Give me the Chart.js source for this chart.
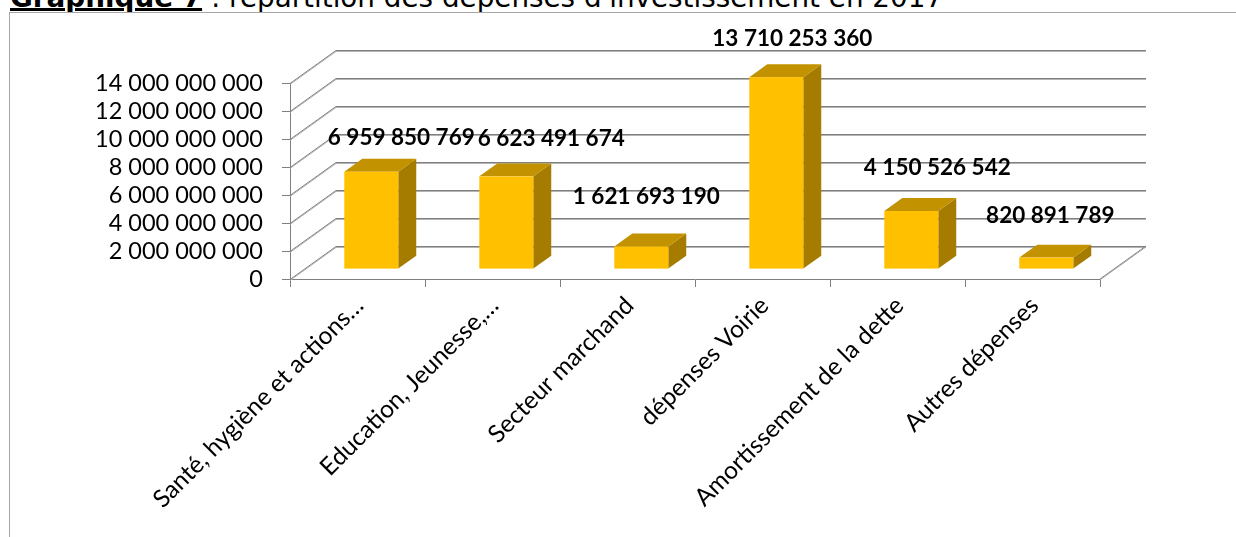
<!DOCTYPE html>
<html lang="fr">
<head>
<meta charset="utf-8">
<script src="https://cdn.jsdelivr.net/npm/chart.js@4.4.1/dist/chart.umd.min.js"></script>
<style>
  html, body { margin: 0; padding: 0; background: #fff; overflow: hidden; }
  #page { position: relative; width: 1236px; height: 537px; overflow: hidden; }
  #titre {
    position: absolute; left: 10px; top: -16px;
    font: 27.8px "DejaVu Sans", sans-serif; line-height: 27.8px;
    white-space: nowrap; color: #000;
  }
  #titre b { text-decoration: underline; text-decoration-thickness: 3px; text-underline-offset: 1px; }
  #cadre { position: absolute; left: 9px; top: 12px; width: 1300px; height: 600px; border: 1px solid #a6a6a6; }
  #graphe { position: absolute; left: 0; top: 0; }
</style>
</head>
<body>
<div id="page">
  <div id="titre"><b>Graphique 7</b> : répartition des dépenses d'investissement en 2017</div>
  <div id="cadre"></div>
  <canvas id="graphe" width="1236" height="537"></canvas>
</div>
<script>
var postes = [
  "Santé, hygiène et actions…",
  "Education, Jeunesse,…",
  "Secteur marchand",
  "dépenses Voirie",
  "Amortissement de la dette",
  "Autres dépenses",
];
var montants = [6959850769, 6623491674, 1621693190, 13710253360, 4150526542, 820891789];
var graduations = [0, 2e9, 4e9, 6e9, 8e9, 10e9, 12e9, 14e9];

// profondeur de la vue 3D (décalage du mur du fond) et position des barres dans cette profondeur
var profondeur = { dx: 46, dy: -33 };
var avant = 0.3;
var arriere = 0.69;

// petits déplacements des étiquettes de valeur, en pixels, autour de leur place par défaut
var ajustEtiquettes = [[10, 6], [25, 2], [-15, -10], [-4, 2], [6, -3], [-16, -2]];

var couleurFace = "#FFC000";
var couleurDessus = "#C39200";
var couleurCote = "#A57C00";
var couleurGrille = "#7f7f7f";

function espaces(n) {
  return String(Math.round(n)).replace(/\B(?=(\d{3})+(?!\d))/g, " ");
}

function trait(ctx, x1, y1, x2, y2) {
  ctx.beginPath();
  ctx.moveTo(x1, y1);
  ctx.lineTo(x2, y2);
  ctx.stroke();
}

function poly(ctx, pts, couleur) {
  ctx.beginPath();
  ctx.moveTo(pts[0][0], pts[0][1]);
  for (var k = 1; k < pts.length; k++) ctx.lineTo(pts[k][0], pts[k][1]);
  ctx.closePath();
  ctx.fillStyle = couleur;
  ctx.fill();
}

var vue3d = {
  id: "vue3d",
  beforeDatasetsDraw: function (chart) {
    var ctx = chart.ctx;
    var a = chart.chartArea;
    var dx = profondeur.dx, dy = profondeur.dy;
    ctx.save();
    ctx.lineWidth = 1;
    // murs : lignes du quadrillage sur la paroi gauche et le fond
    [["#b4b4b4", 1], [couleurGrille, 0]].forEach(function (passe) {
      ctx.strokeStyle = passe[0];
      graduations.forEach(function (v) {
        var py = Math.round(chart.scales.y.getPixelForValue(v)) + 0.5 + passe[1];
        trait(ctx, a.left, py, a.left + dx, py + dy);
        trait(ctx, a.left + dx, py + dy, a.right + dx, py + dy);
      });
      // bord droit du plancher
      trait(ctx, a.right, a.bottom + passe[1], a.right + dx, a.bottom + dy + passe[1]);
    });
    ctx.restore();
  },
  afterDatasetsDraw: function (chart) {
    var ctx = chart.ctx;
    var meta = chart.getDatasetMeta(0);
    var ox = profondeur.dx * avant, oy = profondeur.dy * avant;
    var bx = profondeur.dx * (arriere - avant), by = profondeur.dy * (arriere - avant);
    ctx.save();
    meta.data.forEach(function (barre) {
      var p = barre.getProps(["x", "y", "base", "width"], true);
      var l = p.x - p.width / 2 + ox, r = p.x + p.width / 2 + ox;
      var t = p.y + oy, b = p.base + oy;
      poly(ctx, [[r, t], [r + bx, t + by], [r + bx, b + by], [r, b]], couleurCote);
      poly(ctx, [[l, t], [l + bx, t + by], [r + bx, t + by], [r, t]], couleurDessus);
      ctx.fillStyle = couleurFace;
      ctx.fillRect(l, t, r - l, b - t);
    });
    // étiquettes de valeur au-dessus des barres
    ctx.fillStyle = "#000";
    ctx.font = "bold 22.5px Lato";
    ctx.textAlign = "center";
    ctx.textBaseline = "middle";
    meta.data.forEach(function (barre, i) {
      var p = barre.getProps(["x", "y"], true);
      var aj = ajustEtiquettes[i];
      ctx.fillText(espaces(montants[i]), p.x + ox + 20 + aj[0], p.y + oy - 40 + aj[1]);
    });
    ctx.restore();
  },
};

var ctx = document.getElementById("graphe").getContext("2d");

new Chart(ctx, {
  type: "bar",
  data: {
    labels: postes,
    datasets: [
      {
        data: montants,
        backgroundColor: "rgba(0,0,0,0)",
        borderWidth: 0,
        barPercentage: 0.4,
        categoryPercentage: 1,
      },
    ],
  },
  options: {
    responsive: false,
    devicePixelRatio: 1,
    animation: false,
    layout: { padding: { top: 83, right: 136, left: 0, bottom: 0 } },
    plugins: {
      legend: { display: false },
      tooltip: { enabled: false },
    },
    scales: {
      x: {
        grid: { drawOnChartArea: false, drawTicks: true, tickLength: 8, color: couleurGrille },
        border: { color: couleurGrille },
        ticks: {
          autoSkip: false,
          maxRotation: 45,
          minRotation: 45,
          padding: 4,
          labelOffset: 2,
          color: "#000",
          font: { family: "Lato", size: 24.5 },
        },
        afterFit: function (s) { s.height = 258; },
      },
      y: {
        min: 0,
        max: 14e9,
        grid: { drawOnChartArea: false, drawTicks: true, tickLength: 8, color: couleurGrille },
        border: { color: couleurGrille },
        ticks: {
          autoSkip: false,
          padding: 19,
          color: "#000",
          font: { family: "Lato", size: 23.5 },
          callback: function (v) { return espaces(v); },
        },
        afterBuildTicks: function (s) {
          s.ticks = graduations.map(function (v) { return { value: v }; });
        },
        afterFit: function (s) { s.width = 290; },
      },
    },
  },
  plugins: [vue3d],
});
</script>
</body>
</html>
